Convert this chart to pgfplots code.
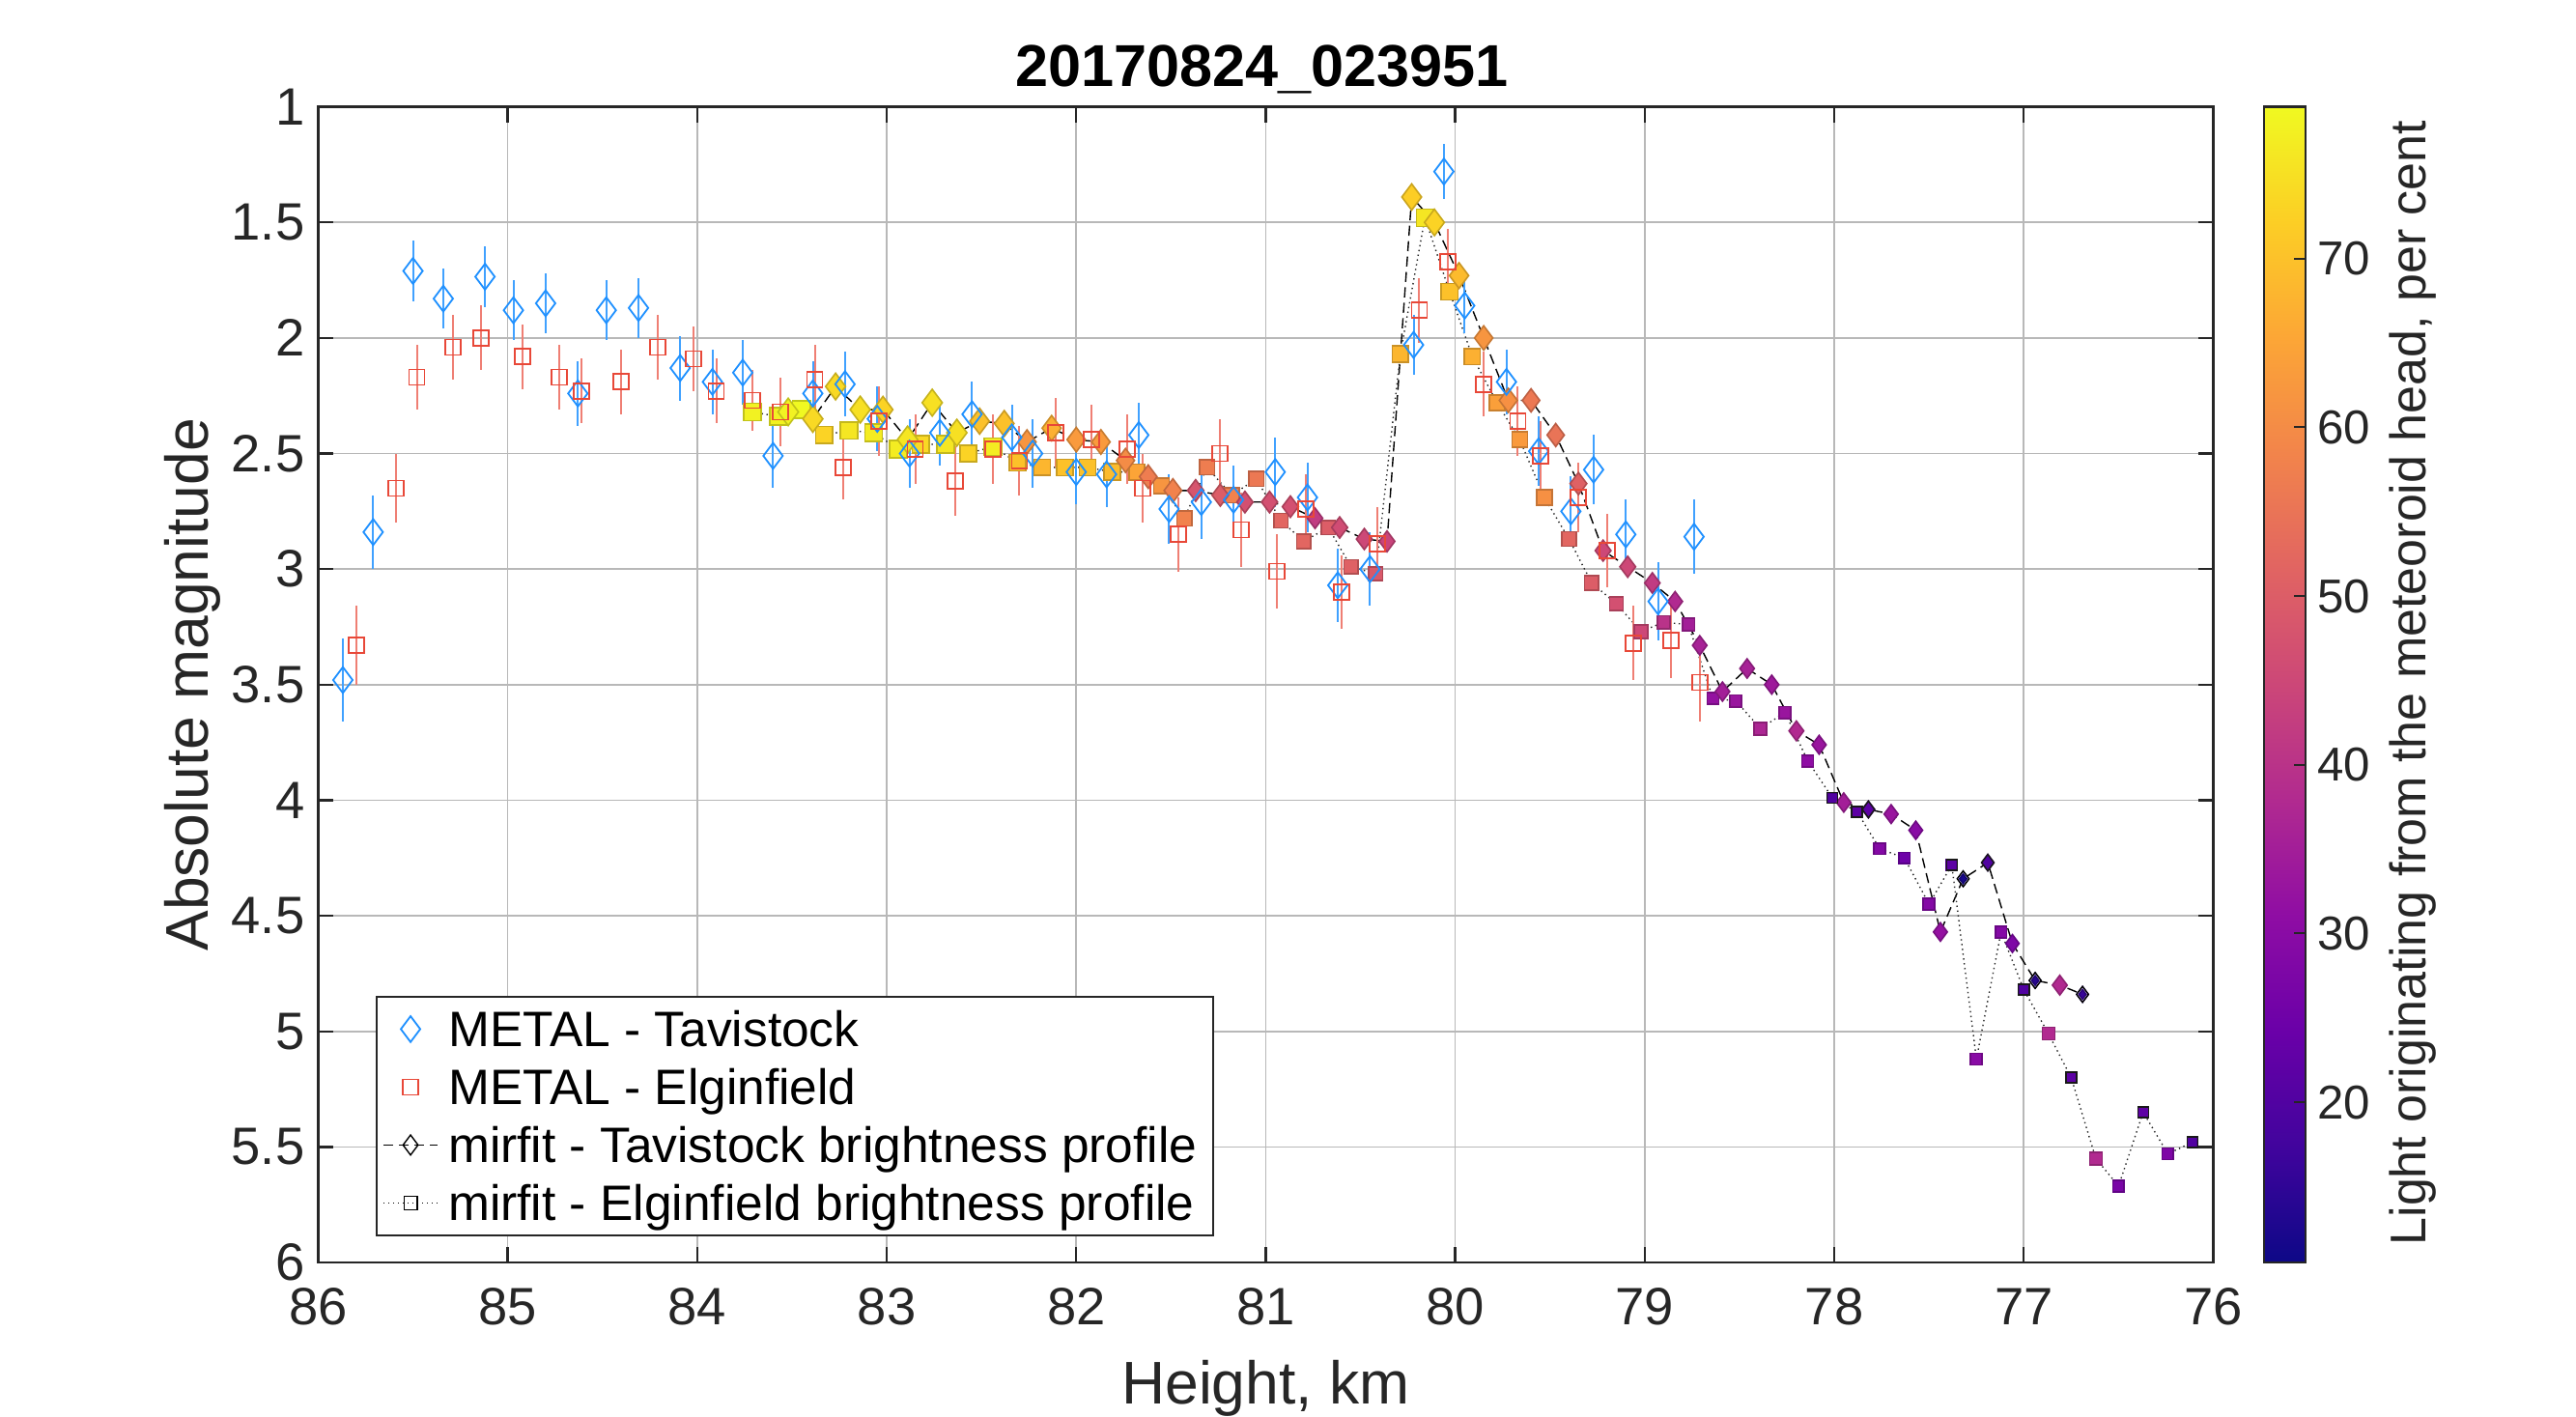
\documentclass[border=0pt]{standalone}
\usepackage{fontspec}
\setmainfont{Liberation Sans}
\usepackage{pgfplots}
\usepackage{pgfplotstable}
\pgfplotsset{compat=1.18}

\definecolor{metalblue}{RGB}{30,144,255}
\definecolor{metalred}{RGB}{232,72,56}
\definecolor{axgray}{RGB}{38,38,38}

\pgfplotsset{
  legmark/.style={legend image code/.code={\draw[##1] plot coordinates {(7pt,0pt)};}},
  legline/.style={legend image code/.code={\draw[mark repeat=2,mark phase=2,##1] plot coordinates {(0pt,0pt)(7pt,0pt)(14pt,0pt)};}},
}

% METAL - Tavistock: height, magnitude, error
\pgfplotstableread{
h m e
85.87 3.48 0.18
85.71 2.84 0.16
85.50 1.71 0.13
85.34 1.83 0.13
85.12 1.735 0.13
84.97 1.88 0.13
84.80 1.85 0.13
84.63 2.24 0.14
84.48 1.88 0.13
84.31 1.87 0.13
84.09 2.13 0.14
83.92 2.19 0.14
83.76 2.15 0.14
83.60 2.51 0.14
83.39 2.24 0.14
83.22 2.20 0.14
83.05 2.35 0.14
82.88 2.50 0.15
82.72 2.41 0.14
82.55 2.33 0.14
82.34 2.43 0.14
82.23 2.50 0.15
82.00 2.58 0.14
81.84 2.59 0.14
81.67 2.42 0.14
81.51 2.74 0.15
81.34 2.71 0.16
81.17 2.70 0.15
80.95 2.58 0.15
80.78 2.69 0.15
80.62 3.07 0.16
80.45 3.00 0.16
80.22 2.03 0.13
80.06 1.28 0.12
79.95 1.86 0.12
79.73 2.19 0.14
79.56 2.49 0.15
79.39 2.75 0.15
79.27 2.57 0.15
79.10 2.85 0.15
78.93 3.14 0.17
78.74 2.86 0.16
}\tavmetal

% METAL - Elginfield
\pgfplotstableread{
h m e
85.80 3.33 0.17
85.59 2.65 0.15
85.48 2.17 0.14
85.29 2.04 0.14
85.14 2.00 0.14
84.92 2.08 0.14
84.73 2.17 0.14
84.61 2.23 0.14
84.40 2.19 0.14
84.21 2.04 0.14
84.02 2.09 0.14
83.90 2.23 0.14
83.71 2.27 0.13
83.56 2.32 0.15
83.38 2.18 0.15
83.23 2.56 0.14
83.04 2.36 0.15
82.85 2.48 0.15
82.64 2.62 0.15
82.44 2.48 0.15
82.30 2.53 0.15
82.11 2.41 0.15
81.92 2.44 0.15
81.73 2.48 0.15
81.65 2.65 0.15
81.46 2.85 0.16
81.24 2.50 0.15
81.13 2.83 0.16
80.94 3.01 0.16
80.79 2.74 0.15
80.60 3.10 0.16
80.41 2.89 0.16
80.19 1.88 0.14
80.04 1.67 0.14
79.85 2.20 0.14
79.67 2.36 0.15
79.55 2.51 0.15
79.35 2.69 0.15
79.20 2.92 0.16
79.06 3.32 0.16
78.86 3.31 0.16
78.71 3.49 0.17
}\elgmetal

% mirfit - Tavistock: height, magnitude, per cent from head
\pgfplotstableread{
h m c
83.52 2.32 78
83.39 2.35 74
83.27 2.21 74
83.14 2.31 75
83.02 2.31 73
82.89 2.44 76
82.76 2.28 75
82.63 2.41 75
82.51 2.36 70
82.38 2.37 70
82.26 2.45 62
82.13 2.39 67
82.00 2.44 63
81.87 2.45 63
81.74 2.53 60
81.62 2.60 57
81.49 2.66 58
81.37 2.66 48
81.24 2.68 50
81.11 2.71 47
80.98 2.71 47
80.87 2.73 47
80.74 2.78 42
80.61 2.82 46
80.48 2.87 45
80.36 2.88 44
80.23 1.39 72
80.11 1.50 73
79.98 1.73 69
79.85 2.00 62
79.72 2.27 61
79.60 2.27 56
79.47 2.42 55
79.35 2.63 51
79.22 2.92 45
79.09 2.99 45
78.96 3.06 42
78.84 3.14 38
78.71 3.33 36
78.59 3.53 35
78.46 3.43 36
78.33 3.50 34
78.20 3.70 38
78.08 3.76 33
77.95 4.01 35
77.82 4.04 22
77.70 4.06 33
77.57 4.13 30
77.44 4.57 32
77.32 4.34 12
77.19 4.27 20
77.06 4.62 28
76.94 4.78 14
76.81 4.80 38
76.69 4.84 16
}\tavmir

% Tavistock points drawn with a ringed marker
\pgfplotstableread{
h m c
77.32 4.34 12
76.94 4.78 14
76.69 4.84 16
}\tavring

% mirfit - Elginfield
\pgfplotstableread{
h m c
83.71 2.32 78
83.57 2.34 78
83.45 2.31 79
83.33 2.42 73
83.20 2.40 76
83.07 2.41 77
82.94 2.48 77
82.82 2.46 74
82.69 2.46 76
82.57 2.50 73
82.44 2.47 77
82.31 2.54 70
82.18 2.56 68
82.06 2.56 70
81.94 2.56 70
81.81 2.58 69
81.68 2.58 65
81.55 2.64 62
81.43 2.78 58
81.31 2.56 57
81.18 2.68 58
81.05 2.61 56
80.92 2.79 52
80.80 2.88 52
80.67 2.82 50
80.55 2.99 51
80.42 3.02 49
80.29 2.07 68
80.16 1.48 76
80.03 1.80 70
79.91 2.08 67
79.78 2.28 64
79.66 2.44 63
79.53 2.69 61
79.40 2.87 52
79.28 3.06 50
79.15 3.15 47
79.02 3.27 45
78.90 3.23 40
78.77 3.24 35
78.64 3.56 32
78.52 3.57 33
78.39 3.69 37
78.26 3.62 33
78.14 3.83 31
78.01 3.99 20
77.88 4.05 22
77.76 4.21 29
77.63 4.25 25
77.50 4.45 29
77.38 4.28 22
77.25 5.12 30
77.12 4.57 29
77.00 4.82 20
76.87 5.01 38
76.75 5.20 22
76.62 5.55 38
76.50 5.67 27
76.37 5.35 22
76.24 5.53 28
76.11 5.48 20
}\elgmir

\begin{document}
\begin{tikzpicture}
\useasboundingbox (0,0) rectangle (666.75pt,366.75pt);
\begin{axis}[
  at={(82.375pt,40pt)}, anchor=south west,
  scale only axis, width=490.5pt, height=299.1pt,
  xmin=76, xmax=86, x dir=reverse,
  ymin=1, ymax=6, y dir=reverse,
  xtick={76,77,...,86}, ytick={1,1.5,...,6},
  grid=major, major grid style={black!28, line width=0.4pt},
  tick align=inside, tick pos=both, major tick length=4pt,
  axis line style={axgray, line width=0.6pt},
  every tick/.style={axgray, line width=0.6pt},
  tick label style={font=\fontsize{13.6pt}{16pt}\selectfont, text=axgray},
  /pgf/number format/assume math mode=true,
  xticklabel style={yshift=-3.2pt},
  xlabel={Height, km}, ylabel={Absolute magnitude},
  label style={font=\fontsize{15.6pt}{18pt}\selectfont, text=axgray},
  xlabel style={at={(axis description cs:0.5,-0.1228)}, anchor=base},
  ylabel style={at={(axis description cs:-0.0581,0.5)}, anchor=base},
  colormap={plasma}{rgb255=(13,8,135) rgb255=(65,4,157) rgb255=(106,0,168) rgb255=(143,13,164) rgb255=(177,42,144) rgb255=(204,71,120) rgb255=(225,100,98) rgb255=(242,132,75) rgb255=(252,166,54) rgb255=(252,206,37) rgb255=(240,249,33)},
  point meta min=10.5, point meta max=79,
  colorbar,
  colorbar style={
    at={(parent axis.north east)}, anchor=north west, xshift=4.6pt,
    scale only axis, width=10.75pt, height=299.1pt,
    ytick={20,30,40,50,60,70},
    ytick pos=right, yticklabel pos=right,
    /pgf/number format/assume math mode=true,
    yticklabel style={font=\fontsize{12.3pt}{14pt}\selectfont, text=axgray, xshift=-0.4pt},
    tick align=inside, major tick length=3pt,
    axis line style={axgray, line width=0.6pt},
    every tick/.style={axgray, line width=0.5pt},
  },
  legend style={at={(axis description cs:0,0)}, anchor=south west, xshift=14.97pt, yshift=6.75pt,
    draw=axgray, line width=0.5pt, fill=white,
    font=\fontsize{12.87pt}{15pt}\selectfont,
    inner xsep=1.5pt, inner ysep=0.9pt, row sep=0pt,
    nodes={inner xsep=2.6pt, inner ysep=0.8pt, text height=11.1pt, text depth=2.3pt}},
  legend cell align=left,
]
% mirfit lines
\addplot[forget plot, black, line width=0.35pt, dash pattern=on 2.6pt off 1.4pt] table[x=h,y=m] {\tavmir};
\addplot[forget plot, black!85, line width=0.35pt, dash pattern=on 0.35pt off 0.9pt] table[x=h,y=m] {\elgmir};
% mirfit markers (size grows with the per-cent value)
\addplot[forget plot, scatter, only marks, mark=square*, point meta=explicit,
  scatter/@pre marker code/.append style={/tikz/mark size={1.19pt+0.00108pt*\pgfplotspointmetatransformed}, /tikz/line width=0.2pt}]
  table[x=h,y=m,meta=c] {\elgmir};
\addplot[forget plot, scatter, only marks, mark=diamond*, point meta=explicit,
  scatter/@pre marker code/.append style={/tikz/mark size={1.8625pt+0.0017125pt*\pgfplotspointmetatransformed}, /tikz/line width=0.2pt}]
  table[x=h,y=m,meta=c] {\tavmir};
% black-edged dark markers
\addplot[forget plot, only marks, mark=square, mark size=1.38pt, black!90, mark options={line width=0.35pt}]
  coordinates {(78.01,3.99) (77.88,4.05) (77.38,4.28) (77.00,4.82) (76.75,5.20) (76.37,5.35) (76.11,5.48)};
\addplot[forget plot, only marks, mark=diamond, mark size=2.15pt, black!90, mark options={line width=0.35pt}]
  coordinates {(77.82,4.04) (77.19,4.27)};
\addplot[forget plot, only marks, mark=diamond*, mark size=2.05pt, mark options={draw=black, fill=white, line width=0.35pt}]
  table[x=h,y=m] {\tavring};
\addplot[forget plot, scatter, only marks, mark=diamond*, mark size=1.25pt, point meta=explicit,
  scatter/@pre marker code/.append style={/tikz/line width=0.1pt}]
  table[x=h,y=m,meta=c] {\tavring};
% METAL
\addplot[forget plot, only marks, mark=diamond, mark size=3.35pt, metalblue, mark options={line width=0.45pt},
  error bars/.cd, y dir=both, y explicit, error mark=none,
  error bar style={line width=0.5pt, metalblue!85}]
  table[x=h,y=m,y error=e] {\tavmetal};
\addplot[forget plot, only marks, mark=square, mark size=2pt, metalred, mark options={line width=0.45pt},
  error bars/.cd, y dir=both, y explicit, error mark=none,
  error bar style={line width=0.5pt, metalred!70}]
  table[x=h,y=m,y error=e] {\elgmetal};
% legend
\addlegendimage{only marks, mark=diamond, mark size=3.35pt, metalblue, mark options={line width=0.45pt}, legmark}
\addlegendentry{METAL - Tavistock}
\addlegendimage{only marks, mark=square, mark size=2pt, metalred, mark options={line width=0.45pt}, legmark}
\addlegendentry{METAL - Elginfield}
\addlegendimage{black, line width=0.35pt, dash pattern=on 2.6pt off 1.4pt, mark=diamond, mark size=2.6pt, mark options={solid, fill=white, line width=0.35pt}, legline}
\addlegendentry{mirfit - Tavistock brightness profile}
\addlegendimage{black, line width=0.35pt, dash pattern=on 0.35pt off 0.9pt, mark=square, mark size=1.7pt, mark options={solid, fill=white, line width=0.35pt}, legline}
\addlegendentry{mirfit - Elginfield brightness profile}
\end{axis}
\node[anchor=base, font=\bfseries\fontsize{15.3pt}{18pt}\selectfont] at (326.6pt,344.4pt) {20170824\_023951};
\node[rotate=90, font=\fontsize{13pt}{15pt}\selectfont, text=axgray] at (624.5pt,190pt) {Light originating from the meteoroid head, per cent};
\end{tikzpicture}
\end{document}
